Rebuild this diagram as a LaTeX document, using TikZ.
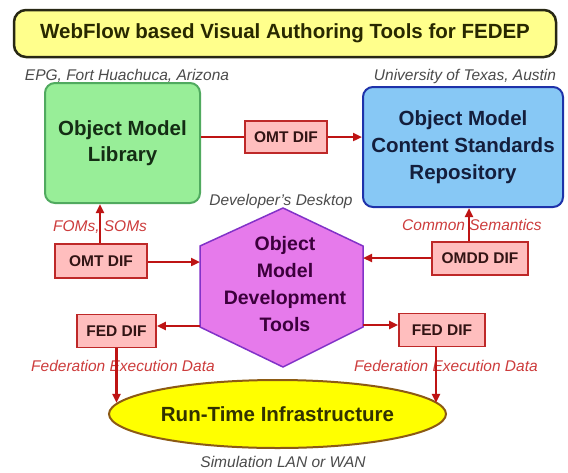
\documentclass[tikz,border=0pt]{standalone}
\usepackage{fontspec}
\setmainfont{Liberation Sans}
\usetikzlibrary{arrows.meta,shapes.geometric}
\definecolor{titlefill}{RGB}{255,255,140}
\definecolor{titleline}{RGB}{40,40,20}
\definecolor{titletext}{RGB}{40,40,0}
\definecolor{greenfill}{RGB}{152,238,152}
\definecolor{greenline}{RGB}{80,170,95}
\definecolor{greentext}{RGB}{20,45,20}
\definecolor{bluefill}{RGB}{135,200,245}
\definecolor{blueline}{RGB}{30,50,170}
\definecolor{bluetext}{RGB}{20,30,60}
\definecolor{hexfill}{RGB}{230,122,235}
\definecolor{hexline}{RGB}{130,50,200}
\definecolor{hextext}{RGB}{60,0,60}
\definecolor{diffill}{RGB}{255,190,190}
\definecolor{difline}{RGB}{190,40,40}
\definecolor{diftext}{RGB}{50,20,20}
\definecolor{arrcol}{RGB}{190,20,20}
\definecolor{redlbl}{RGB}{205,60,60}
\definecolor{graylbl}{RGB}{75,75,75}
\definecolor{rtifill}{RGB}{255,255,0}
\definecolor{rtiline}{RGB}{140,90,20}
\definecolor{rtitext}{RGB}{50,50,0}
\begin{document}
\begin{tikzpicture}[x=1pt,y=-1pt,
  bigtext/.style={font=\fontsize{20.5}{26}\selectfont\bfseries},
  lbl/.style={font=\fontsize{15.5}{18}\selectfont\itshape, inner sep=0pt},
  titlebox/.style={draw=titleline, fill=titlefill, line width=2.5pt, rounded corners=12pt, bigtext, text=titletext},
  greenbox/.style={draw=greenline, fill=greenfill, line width=2pt, rounded corners=10pt, bigtext, text=greentext, align=center},
  bluebox/.style={draw=blueline, fill=bluefill, line width=2pt, rounded corners=10pt, font=\fontsize{20.5}{27}\selectfont\bfseries, text=bluetext, align=center},
  hexshape/.style={draw=hexline, fill=hexfill, line width=1.5pt, line join=miter},
  hextxt/.style={font=\fontsize{19.5}{27.3}\selectfont\bfseries, text=hextext, align=center},
  difbox/.style={draw=difline, fill=diffill, line width=1.8pt, font=\fontsize{15.5}{18}\selectfont\bfseries, text=diftext, inner sep=0pt},
  rtibox/.style={ellipse, draw=rtiline, fill=rtifill, line width=2pt, inner sep=0pt, bigtext, text=rtitext},
  arr/.style={draw=arrcol, line width=2.5pt, -{Triangle[length=9pt,width=8pt]}},
  ln/.style={draw=arrcol, line width=2.5pt}]
\fill[white] (0,0) rectangle (568,472);
\useasboundingbox (0,0) rectangle (568,472);

% title
\node[titlebox, minimum width=542pt, minimum height=47pt] (title) at (285,33.5) {WebFlow based Visual Authoring Tools for FEDEP};

% site labels
\node[lbl, text=graylbl] (epg) at (127,76) {EPG, Fort Huachuca, Arizona};
\node[lbl, text=graylbl] (ut) at (465,76) {University of Texas, Austin};

% main boxes
\node[greenbox, minimum width=155pt, minimum height=120pt] (oml) at (122.5,143) {Object Model\\Library};
\node[bluebox, minimum width=200pt, minimum height=120pt] (ocs) at (463,147) {Object Model\\Content Standards\\Repository};

% hexagon
\coordinate (hT) at (283,208);
\coordinate (hUR) at (363,246);
\coordinate (hLR) at (363,327);
\coordinate (hB) at (283,367);
\coordinate (hLL) at (200,327);
\coordinate (hUL) at (200,246);
\draw[hexshape] (hT) -- (hUR) -- (hLR) -- (hB) -- (hLL) -- (hUL) -- cycle;
\node[hextxt] (omdt) at (285,284) {Object\\Model\\Development\\Tools};
\node[lbl, text=graylbl] (desk) at (281,201) {Developer’s Desktop};

% ellipse
\node[rtibox, minimum width=337pt, minimum height=68pt] (rti) at (277.5,414) {Run-Time Infrastructure};
\node[lbl, text=graylbl] (lan) at (283,462) {Simulation LAN or WAN};

% red labels
\node[lbl, text=redlbl] (foms) at (100,227) {FOMs, SOMs};
\node[lbl, text=redlbl] (cs) at (472,225) {Common Semantics};
\node[lbl, text=redlbl] (fedl) at (123,366) {Federation Execution Data};
\node[lbl, text=redlbl] (fedr) at (446,366) {Federation Execution Data};

% DIF boxes
\node[difbox, minimum width=82pt, minimum height=32pt] (omta) at (286,137) {OMT DIF};
\node[difbox, minimum width=92pt, minimum height=34pt] (omtb) at (101,261) {OMT DIF};
\node[difbox, minimum width=96pt, minimum height=33pt] (omdd) at (480,258.5) {OMDD DIF};
\node[difbox, minimum width=79pt, minimum height=33pt] (fdl) at (116.5,331) {FED DIF};
\node[difbox, minimum width=86pt, minimum height=33pt] (fdr) at (442,330) {FED DIF};

% connectors
\draw[ln] (oml.east |- omta.center) -- (omta.west);
\draw[arr] (omta.east) -- (ocs.west |- omta.center);
\draw[arr] ([xshift=-1pt]omtb.north) -- ([xshift=-1pt]omtb.north |- oml.south);
\draw[arr] (omtb.east |- 0,262) -- (hUL |- 0,262);
\draw[arr] ([xshift=-11pt]omdd.north) -- ([xshift=-11pt]omdd.north |- ocs.south);
\draw[arr] (omdd.west |- 0,258) -- (hUR |- 0,258);
\draw[arr] (hLL |- 0,326) -- (fdl.east |- 0,326);
\draw[arr] (hLR |- 0,325) -- (fdr.west |- 0,325);
\draw[arr] (fdl.south) -- (fdl.south |- rti.176);
\draw[arr] ([xshift=-6pt]fdr.south) -- ([xshift=-6pt]fdr.south |- rti.4);
\end{tikzpicture}
\end{document}
